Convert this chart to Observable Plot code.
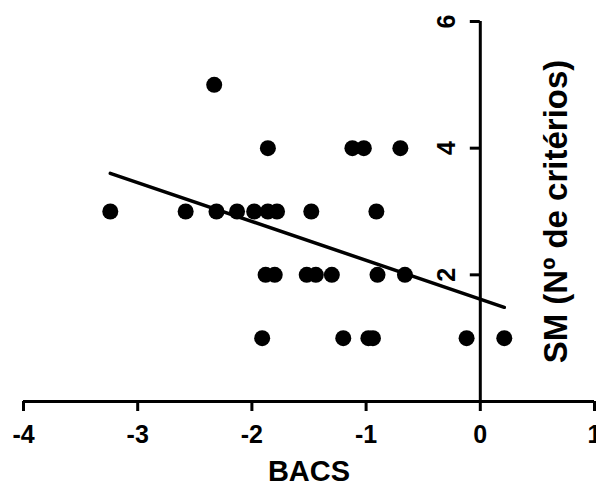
<!DOCTYPE html>
<html>
<head>
<meta charset="utf-8">
<script src="https://cdn.jsdelivr.net/npm/d3@7"></script>
<script src="https://cdn.jsdelivr.net/npm/@observablehq/plot@0.6"></script>
<style>
  html, body { margin: 0; padding: 0; background: #fff; }
  svg { display: block; }
</style>
</head>
<body>
<div id="chart"></div>
<script>
// BACS (x) and SM – number of criteria (y)
const bacs = [
  -2.33,
  -1.86, -1.12, -1.02, -0.70,
  -3.24, -2.58, -2.31, -2.13, -1.98, -1.86, -1.78, -1.48, -0.91,
  -1.88, -1.80, -1.52, -1.44, -1.30, -0.90, -0.66,
  -1.91, -1.20, -0.98, -0.94, -0.12, 0.21
];
const sm = [
  5,
  4, 4, 4, 4,
  3, 3, 3, 3, 3, 3, 3, 3, 3,
  2, 2, 2, 2, 2, 2, 2,
  1, 1, 1, 1, 1, 1
];
const xDomain = [-4, 1];
const yDomain = [0, 6];
const xTicks = [-4, -3, -2, -1, 0, 1];
const yTicks = [2, 4, 6];
const xTitle = "BACS";
const yTitle = "SM (Nº de critérios)";

const data = bacs.map((x, i) => ({x, y: sm[i]}));
const font = "Liberation Sans, Arial, Helvetica, sans-serif";

const chart = Plot.plot({
  width: 596,
  height: 486,
  marginLeft: 23,
  marginRight: 2,
  marginTop: 21,
  marginBottom: 85,
  style: {fontFamily: font, background: "#fff", color: "#000"},
  x: {domain: xDomain, axis: null},
  y: {domain: yDomain, axis: null},
  marks: [
    // x axis
    Plot.ruleY([yDomain[0]], {stroke: "#000", strokeWidth: 3}),
    Plot.axisX(xTicks, {
      anchor: "bottom", tickSize: 10, tickPadding: 14, strokeWidth: 3,
      fontSize: 25, fontWeight: "bold", fill: "#000", stroke: "#000",
      tickFormat: d => String(d), label: null
    }),
    Plot.text([xTitle], {
      frameAnchor: "bottom", textAnchor: "middle", lineAnchor: "bottom", dy: 79,
      fontSize: 29, fontWeight: "bold", fill: "#000"
    }),
    // y axis placed at x = 0
    Plot.ruleX([0], {y1: yDomain[0], y2: yDomain[1], stroke: "#000", strokeWidth: 3}),
    Plot.ruleY(yTicks, {x1: 0, x2: 0, insetLeft: -10, stroke: "#000", strokeWidth: 3}),
    Plot.text(yTicks, {
      x: 0, y: d => d, text: d => String(d), rotate: -90, dx: -33,
      fontSize: 25, fontWeight: "bold", fill: "#000"
    }),
    Plot.text([yTitle], {
      frameAnchor: "right", textAnchor: "middle", lineAnchor: "middle",
      rotate: -90, dx: -38,
      fontSize: 33, fontWeight: "bold", fill: "#000"
    }),
    // data
    Plot.dot(data, {x: "x", y: "y", r: 8, fill: "#000", stroke: null}),
    Plot.linearRegressionY(data, {x: "x", y: "y", ci: 0, stroke: "#000", strokeWidth: 3.5})
  ]
});
document.getElementById("chart").append(chart);
</script>
</body>
</html>
